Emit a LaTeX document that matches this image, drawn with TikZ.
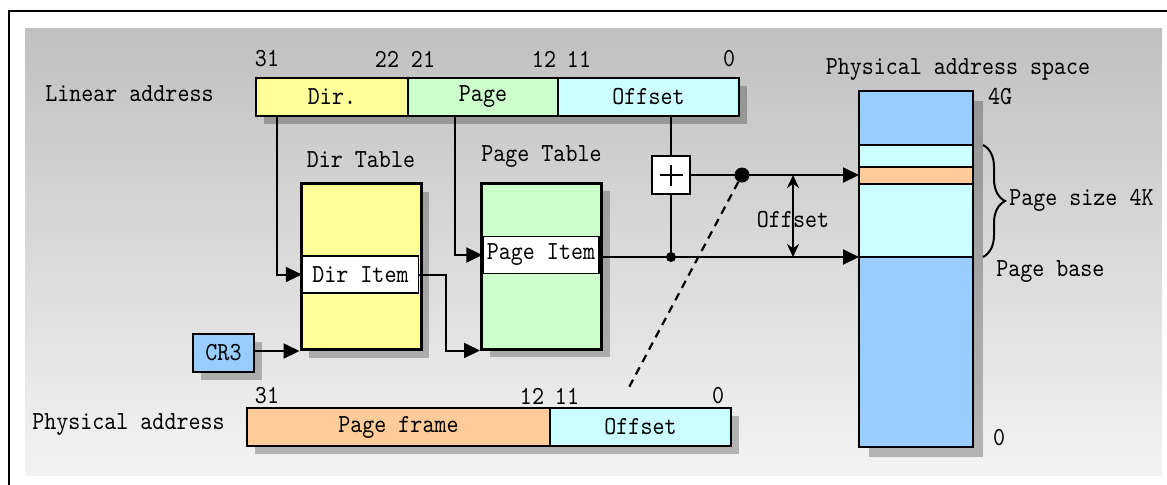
\documentclass[tikz,border=0pt]{standalone}
\usepackage{fontspec}
\setmonofont[FakeStretch=0.88]{lmmono10-regular.otf}
\usetikzlibrary{positioning}
\usetikzlibrary{calc}
\usetikzlibrary{arrows.meta}
\usetikzlibrary{shadows}
\usetikzlibrary{decorations.pathreplacing}
\definecolor{bgtop}{RGB}{192,192,192}
\definecolor{bgbot}{RGB}{243,243,243}
\definecolor{diryellow}{RGB}{255,255,153}
\definecolor{pagegreen}{RGB}{204,255,204}
\definecolor{offcyan}{RGB}{204,255,255}
\definecolor{memblue}{RGB}{153,204,255}
\definecolor{frameorange}{RGB}{255,204,153}

\begin{document}
\begin{tikzpicture}[
    x=0.5pt, y=-0.5pt,
    font=\fontsize{13}{15}\selectfont\ttfamily,
    >={Triangle[length=8pt,width=7.5pt]},
    shadowed/.style={drop shadow={shadow xshift=4pt, shadow yshift=-4pt, fill=black, opacity=0.25}},
    field/.style={rectangle, draw, line width=1pt, minimum height=19pt, inner sep=0pt, outer sep=0pt, shadowed},
    tablebox/.style={rectangle, draw, line width=1.5pt, minimum width=60pt, minimum height=83pt, inner sep=0pt, shadowed},
    entry/.style={rectangle, draw, line width=0.7pt, fill=white, minimum width=58pt, minimum height=18.5pt, inner sep=0pt},
    seg/.style={rectangle, draw, line width=1pt, minimum width=57pt, inner sep=0pt, outer sep=0pt, anchor=north west},
    lbl/.style={inner sep=0pt},
    wire/.style={line width=1pt},
    dot/.style={circle, fill, inner sep=0pt}
]
    \useasboundingbox (0,0) rectangle (1167,484);
    \clip (0,0) rectangle (1167,484);

    % Background and frame
    \shade[top color=bgtop, bottom color=bgbot] (25,28) rectangle (1162,475);
    \draw[line width=1.3pt] (9,500) -- (9,11) -- (1180,11);

    % Linear address
    \node[lbl, anchor=west] (linlbl) at (45,94) {Linear address};
    \node[field, fill=diryellow, minimum width=76pt] (ldir) at (332,97) {Dir.};
    \node[field, fill=pagegreen, minimum width=75pt, right=0pt of ldir] (lpage) {Page};
    \node[field, fill=offcyan, minimum width=90.5pt, right=0pt of lpage] (loff) {Offset};
    \node[lbl] (lb31) at (267,59) {31};
    \node[lbl] (lb22) at (387,59) {22};
    \node[lbl] (lb21) at (423,59) {21};
    \node[lbl] (lb12) at (544,59) {12};
    \node[lbl] (lb11) at (579,59) {11};
    \node[lbl] (lb0) at (729,59) {0};

    % Physical address
    \node[lbl, anchor=west] (phylbl) at (32,425) {Physical address};
    \node[field, fill=frameorange, minimum width=151.5pt] (pframe) at (398.5,427) {Page frame};
    \node[field, fill=offcyan, minimum width=90.5pt, right=0pt of pframe] (poff) {Offset};
    \node[lbl] (pb31) at (267,396) {31};
    \node[lbl] (pb12) at (532,396) {12};
    \node[lbl] (pb11) at (567,396) {11};
    \node[lbl] (pb0) at (718,396) {0};

    % Tables
    \node[tablebox, fill=diryellow] (dtab) at (361,266.5) {};
    \node[lbl, above=7pt of dtab] (dtablbl) {Dir Table};
    \node[entry] (ditem) at (360.5,274.5) {Dir Item};
    \node[tablebox, fill=pagegreen] (ptab) at (541.5,266) {};
    \node[lbl, above=7pt of ptab] (ptablbl) {Page Table};
    \node[entry] (pitem) at (541,255) {Page Item};
    \node[field, fill=memblue, minimum width=30.5pt] (cr3) at (223.5,353) {CR3};

    % Physical memory
    \node[rectangle, minimum width=57pt, minimum height=178pt, inner sep=0pt, fill=memblue,
          drop shadow={shadow xshift=5pt, shadow yshift=-5pt, fill=black, opacity=0.25}] (mem) at (916,269) {};
    \node[seg, fill=memblue, minimum height=27pt] (mtop) at (859,91) {};
    \node[seg, fill=offcyan, minimum height=11pt, below=0pt of mtop] (mpg1) {};
    \node[seg, fill=frameorange, minimum height=8.5pt, below=0pt of mpg1] (mhit) {};
    \node[seg, fill=offcyan, minimum height=36.5pt, below=0pt of mhit] (mpg2) {};
    \node[seg, fill=memblue, minimum height=95pt, below=0pt of mpg2] (mbase) {};
    \node[lbl] (memlbl) at (958,70) {Physical address space};
    \node[lbl] (m4g) at (1000,97) {4G};
    \node[lbl] (m0) at (999,438) {0};
    \node[lbl, anchor=west] (pbaselbl) at (996,272) {Page base};
    \draw[wire, decorate, decoration={brace, amplitude=11pt}] ([xshift=5pt]mpg1.north east) -- ([xshift=5pt]mpg2.south east);
    \node[lbl, anchor=west] (psize) at (1009,200) {Page size 4K};

    % Adder
    \node[rectangle, draw, fill=white, line width=1pt, minimum size=19pt, inner sep=0pt] (plus) at (671,175) {};
    \draw[line width=0.8pt] ($(plus.center)+(-11.5,0)$) -- ($(plus.center)+(11.5,0)$);
    \draw[line width=0.8pt] ($(plus.center)+(0,-10.5)$) -- ($(plus.center)+(0,10.5)$);
    \node[dot, minimum size=5pt] (jdot) at (plus |- mbase.north) {};
    \node[dot, minimum size=7.5pt] (sdot) at (742,175) {};

    % Connectors
    \draw[wire, ->] ([xshift=10.5pt]ldir.south west) |- (ditem.west);
    \draw[wire, ->] ([xshift=23.5pt]lpage.south west) |- (pitem.west);
    \draw[wire, ->] (ditem.east) -- ++(13.5pt,0) |- (ptab.south west);
    \draw[wire, ->] (cr3.east |- dtab.south) -- (dtab.south west);
    \draw[wire] (loff.south -| plus) -- (plus.north);
    \draw[wire] (plus.south) -- (jdot);
    \draw[wire, ->] (pitem.east |- mbase.north west) -- (mbase.north west);
    \draw[wire, ->] (plus.east) -- (plus.east -| mhit.west);

    % Offset span
    \coordinate (otop) at (793,175);
    \coordinate (obot) at (793,257);
    \draw[wire, {Stealth[length=6.5pt,width=6pt]}-{Stealth[length=6.5pt,width=6pt]}] (otop) -- (obot);
    \node[lbl] (offlbl) at (793,220) {Offset};

    % Page frame lookup
    \coordinate (dend) at (627,391);
    \draw[line width=1.1pt, dash pattern=on 4pt off 3pt] (sdot) -- (dend);
\end{tikzpicture}
\end{document}
